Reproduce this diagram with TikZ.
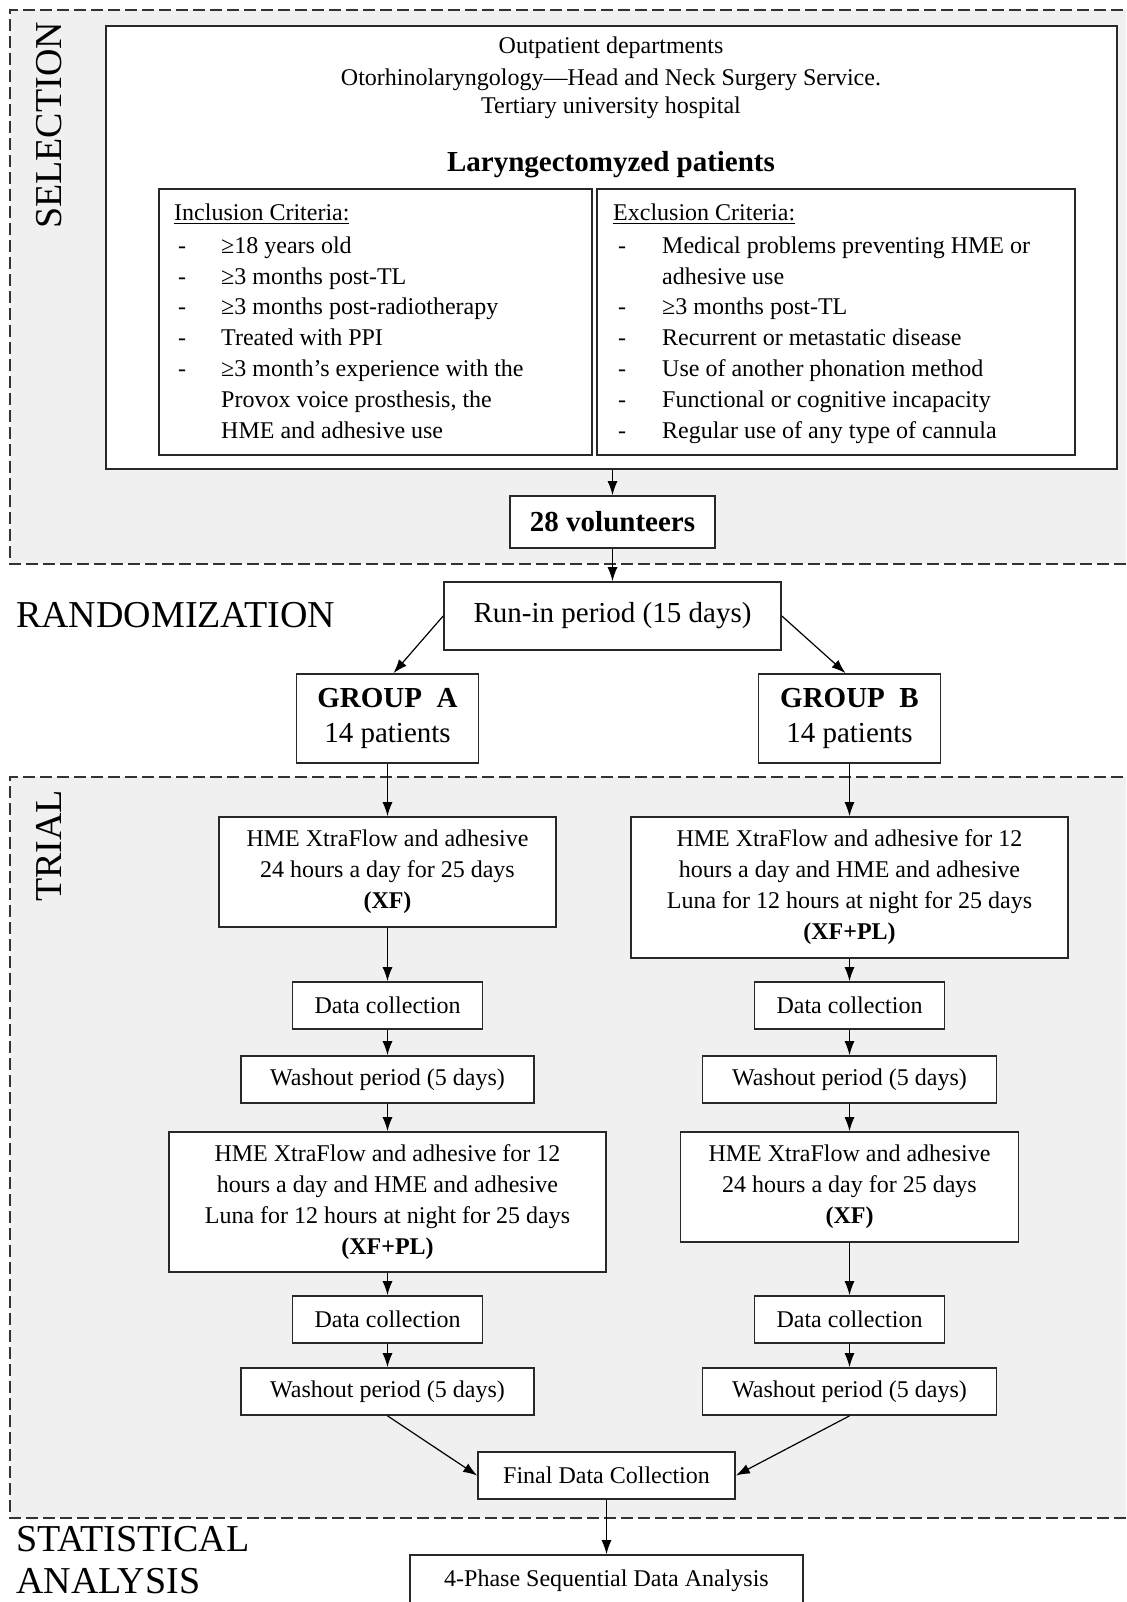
\documentclass[tikz,border=0pt]{standalone}
\usepackage{fontspec}
\setmainfont{Liberation Serif}
\usetikzlibrary{arrows.meta}
\definecolor{regfill}{RGB}{240,240,240}
\definecolor{edge}{RGB}{40,40,40}
\newcommand\fsmall{\fontsize{24}{31}\selectfont}
\newcommand\fmid{\fontsize{29}{35}\selectfont}
\newcommand\fbig{\fontsize{38}{46}\selectfont}
\begin{document}
\begin{tikzpicture}[x=1pt,y=-1pt,
  box/.style={draw=edge, line width=1.7pt, fill=white, inner sep=0pt, align=center, font=\fsmall},
  sz/.style 2 args={minimum width=#1, minimum height=#2},
  arr/.style={draw=black, line width=1.2pt, -{Latex[length=14pt,width=10pt]}},
  region/.style={fill=regfill},
  regline/.style={draw=black!80, line width=1.4pt, dash pattern=on 12pt off 5pt},
  lbl/.style={inner sep=0pt, font=\fbig, anchor=base west},
  item/.style={inner sep=0pt, font=\fsmall, anchor=base west},
  hdr/.style={inner sep=0pt, font=\fsmall},
]
\useasboundingbox (0,0) rectangle (1126,1602);
\clip (0,0) rectangle (1126,1602);
\fill[white] (0,0) rectangle (1126,1602);

% regions
\path[region] (10,10) rectangle (1140,564);
\draw[regline] (1140,10) -- (10,10) -- (10,564) -- (1140,564);
\path[region] (10,777) rectangle (1140,1518);
\draw[regline] (1140,777) -- (10,777) -- (10,1518) -- (1140,1518);

% section labels
\node[lbl, rotate=90] (lsel) at (61,229) {SELECTION};
\node[lbl] (lrand) at (16,627) {RANDOMIZATION};
\node[lbl, rotate=90] (ltrial) at (61,902) {TRIAL};
\node[lbl] (lstat) at (16,1551) {STATISTICAL};
\node[lbl] (lanal) at (16,1593) {ANALYSIS};

% selection
\node[box, sz={1011}{443}] (pop) at (611.5,247.5) {};
\node[hdr] (h1) at (611,48) {Outpatient departments};
\node[hdr] (h2) at (611,80) {Otorhinolaryngology—Head and Neck Surgery Service.};
\node[hdr] (h3) at (611,108) {Tertiary university hospital};
\node[hdr, font=\fmid\bfseries] (h4) at (611,165) {Laryngectomyzed patients};

\node[box, sz={433}{266}] (inc) at (375.5,322) {};
\node[box, sz={478}{266}] (exc) at (836,322) {};

\node[item] (it) at (174,221) {\underline{Inclusion Criteria:}};
\node[item] (id1) at (178,254) {-};
\node[item] (i1) at (221,254) {≥18 years old};
\node[item] (id2) at (178,285) {-};
\node[item] (i2) at (221,285) {≥3 months post-TL};
\node[item] (id3) at (178,315) {-};
\node[item] (i3) at (221,315) {≥3 months post-radiotherapy};
\node[item] (id4) at (178,345) {-};
\node[item] (i4) at (221,345) {Treated with PPI};
\node[item] (id5) at (178,376) {-};
\node[item] (i5) at (221,376) {≥3 month's experience with the};
\node[item] (i5b) at (221,407) {Provox voice prosthesis, the};
\node[item] (i5c) at (221,438) {HME and adhesive use};

\node[item] (et) at (613,221) {\underline{Exclusion Criteria:}};
\node[item] (ed1) at (618,254) {-};
\node[item] (e1) at (662,254) {Medical problems preventing HME or};
\node[item] (e1b) at (662,285) {adhesive use};
\node[item] (ed2) at (618,315) {-};
\node[item] (e2) at (662,315) {≥3 months post-TL};
\node[item] (ed3) at (618,345) {-};
\node[item] (e3) at (662,345) {Recurrent or metastatic disease};
\node[item] (ed4) at (618,376) {-};
\node[item] (e4) at (662,376) {Use of another phonation method};
\node[item] (ed5) at (618,407) {-};
\node[item] (e5) at (662,407) {Functional or cognitive incapacity};
\node[item] (ed6) at (618,438) {-};
\node[item] (e6) at (662,438) {Regular use of any type of cannula};

\node[box, sz={205}{52}, font=\fmid\bfseries] (vol) at (612.5,522) {28 volunteers};

% randomization
\node[box, sz={337}{68}, font=\fmid] (runin) at (612.5,616) {Run-in period (15 days)};
\node[box, sz={182}{89}, font=\fmid] (grpA) at (387.5,718.5) {\textbf{GROUP\ \ A}\\14 patients};
\node[box, sz={182}{89}, font=\fmid] (grpB) at (849.5,718.5) {\textbf{GROUP\ \ B}\\14 patients};

% trial A
\node[box, sz={337}{110}] (a1) at (387.5,872) {HME XtraFlow and adhesive\\24 hours a day for 25 days\\\textbf{(XF)}};
\node[box, sz={190}{47}] (dcA) at (387.5,1005.5) {Data collection};
\node[box, sz={293}{47}] (woA) at (387.5,1079.5) {Washout period (5 days)};
\node[box, sz={437}{140}] (a3) at (387.5,1202) {HME XtraFlow and adhesive for 12\\hours a day and HME and adhesive\\Luna for 12 hours at night for 25 days\\\textbf{(XF+PL)}};
\node[box, sz={190}{47}] (dcA2) at (387.5,1319.5) {Data collection};
\node[box, sz={293}{47}] (woA2) at (387.5,1391.5) {Washout period (5 days)};

% trial B
\node[box, sz={437}{141}] (b1) at (849.5,887.5) {HME XtraFlow and adhesive for 12\\hours a day and HME and adhesive\\Luna for 12 hours at night for 25 days\\\textbf{(XF+PL)}};
\node[box, sz={190}{47}] (dcB) at (849.5,1005.5) {Data collection};
\node[box, sz={294}{47}] (woB) at (849.5,1079.5) {Washout period (5 days)};
\node[box, sz={338}{110}] (b3) at (849.5,1187) {HME XtraFlow and adhesive\\24 hours a day for 25 days\\\textbf{(XF)}};
\node[box, sz={190}{47}] (dcB2) at (849.5,1319.5) {Data collection};
\node[box, sz={294}{47}] (woB2) at (849.5,1391.5) {Washout period (5 days)};

\node[box, sz={257}{47}] (final) at (606.5,1475.5) {Final Data Collection};
\node[box, sz={393}{52}] (four) at (606.5,1581) {4-Phase Sequential Data Analysis};

% connectors
\draw[arr] (pop.south -| vol.north) -- (vol.north);
\draw[arr] (vol.south) -- (runin.north);
\draw[arr] (runin.west) -- ([xshift=6pt]grpA.north);
\draw[arr] (runin.east) -- ([xshift=-4pt]grpB.north);
\draw[arr] (grpA) -- (a1);
\draw[arr] (a1) -- (dcA);
\draw[arr] (dcA) -- (woA);
\draw[arr] (woA) -- (a3);
\draw[arr] (a3) -- (dcA2);
\draw[arr] (dcA2) -- (woA2);
\draw[arr] (woA2.south) -- (final.west);
\draw[arr] (grpB) -- (b1);
\draw[arr] (b1) -- (dcB);
\draw[arr] (dcB) -- (woB);
\draw[arr] (woB) -- (b3);
\draw[arr] (b3) -- (dcB2);
\draw[arr] (dcB2) -- (woB2);
\draw[arr] (woB2.south) -- (final.east);
\draw[arr] (final) -- (four);
\end{tikzpicture}
\end{document}
